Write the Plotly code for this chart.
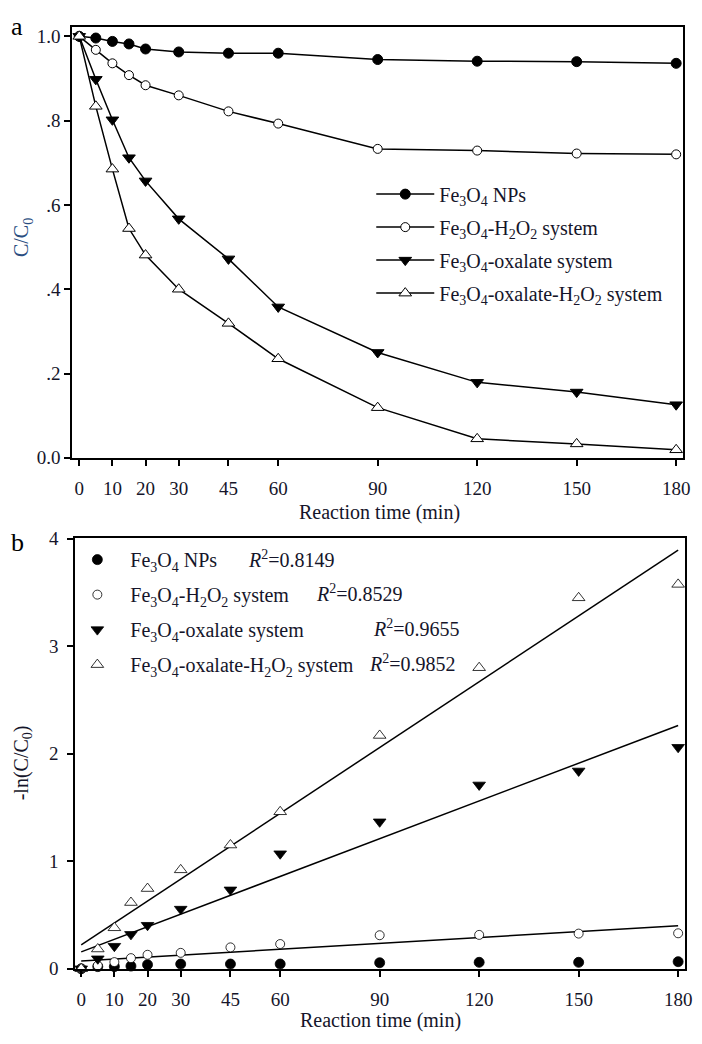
import numpy as np
import plotly.graph_objects as go

W, H = 702, 1044

# ---------------- data ----------------
time_min = [0, 5, 10, 15, 20, 30, 45, 60, 90, 120, 150, 180]

series_names = [
    "Fe<sub>3</sub>O<sub>4</sub> NPs",
    "Fe<sub>3</sub>O<sub>4</sub>-H<sub>2</sub>O<sub>2</sub> system",
    "Fe<sub>3</sub>O<sub>4</sub>-oxalate system",
    "Fe<sub>3</sub>O<sub>4</sub>-oxalate-H<sub>2</sub>O<sub>2</sub> system",
]

# panel a : C/C0
cc0_nps      = [1.000, 0.996, 0.988, 0.982, 0.970, 0.963, 0.960, 0.960, 0.945, 0.941, 0.940, 0.936]
cc0_h2o2     = [1.000, 0.968, 0.936, 0.908, 0.884, 0.860, 0.822, 0.793, 0.733, 0.729, 0.722, 0.720]
cc0_oxalate  = [1.000, 0.898, 0.802, 0.712, 0.657, 0.567, 0.472, 0.358, 0.250, 0.179, 0.156, 0.126]
cc0_ox_h2o2  = [1.000, 0.834, 0.685, 0.544, 0.481, 0.400, 0.319, 0.235, 0.119, 0.045, 0.033, 0.019]

# panel b : -ln(C/C0)
ln_nps     = [0.000, 0.020, 0.020, 0.025, 0.038, 0.044, 0.044, 0.044, 0.056, 0.060, 0.060, 0.066]
ln_h2o2    = [0.000, 0.030, 0.062, 0.099, 0.130, 0.148, 0.199, 0.230, 0.312, 0.315, 0.327, 0.330]
ln_oxalate = [0.000, 0.093, 0.210, 0.320, 0.405, 0.555, 0.734, 1.070, 1.367, 1.710, 1.840, 2.060]
ln_ox_h2o2 = [0.000, 0.184, 0.381, 0.616, 0.746, 0.920, 1.151, 1.460, 2.170, 2.800, 3.450, 3.575]

r2_labels = ["0.8149", "0.8529", "0.9655", "0.9852"]
# which fits are drawn as visible lines (the NPs fit lies on the x axis)
fit_drawn = [False, True, True, True]

x_ticks = [0, 10, 20, 30, 45, 60, 90, 120, 150, 180]
ya_ticks = [0.0, 0.2, 0.4, 0.6, 0.8, 1.0]
ya_ticktext = ["0.0", ".2", ".4", ".6", ".8", "1.0"]
yb_ticks = [0, 1, 2, 3, 4]

# ---------------- styles ----------------
FONT = "Liberation Serif, Times New Roman, serif"
TXT = "#15152a"
BLUE = "#2a4d80"
symbols = ["circle", "circle", "triangle-down", "triangle-up"]
fills = ["black", "white", "black", "white"]
sizes_a = [10, 9, 11, 11]
sizes_b = [10, 9, 11, 11]


def px(x):
    return x / W


def py(y):
    return 1 - y / H


fig = go.Figure()

a_series = [cc0_nps, cc0_h2o2, cc0_oxalate, cc0_ox_h2o2]
b_series = [ln_nps, ln_h2o2, ln_oxalate, ln_ox_h2o2]

for i, (name, ys) in enumerate(zip(series_names, a_series)):
    fig.add_trace(go.Scatter(
        x=time_min, y=ys, name=name, mode="lines+markers",
        xaxis="x", yaxis="y", legend="legend", legendgroup=f"a{i}",
        line=dict(color="black", width=1.5),
        marker=dict(symbol=symbols[i], size=sizes_a[i],
                    color=fills[i], line=dict(color="black", width=1)),
        cliponaxis=False,
    ))

for i, (name, ys) in enumerate(zip(series_names, b_series)):
    if not fit_drawn[i]:
        continue
    slope, icpt = np.polyfit(time_min, ys, 1)
    xs = [time_min[0], time_min[-1]]
    fig.add_trace(go.Scatter(
        x=xs, y=[icpt + slope * v for v in xs], mode="lines",
        xaxis="x2", yaxis="y2", showlegend=False,
        line=dict(color="black", width=1.5), hoverinfo="skip",
    ))

for i, (name, ys) in enumerate(zip(series_names, b_series)):
    fig.add_trace(go.Scatter(
        x=time_min, y=ys, name=name, mode="markers",
        xaxis="x2", yaxis="y2", legend="legend2", legendgroup=f"b{i}",
        marker=dict(symbol=symbols[i], size=sizes_b[i],
                    color=fills[i], line=dict(color="black", width=0.8)),
        cliponaxis=False,
    ))

axis_common = dict(
    showline=True, linecolor="black", linewidth=2, mirror=True,
    ticks="outside", ticklen=6, tickwidth=1.5, tickcolor="black",
    showgrid=False, zeroline=False,
    tickfont=dict(family=FONT, size=19, color=TXT),
)

fig.update_layout(
    width=W, height=H,
    margin=dict(l=0, r=0, t=0, b=0),
    paper_bgcolor="white", plot_bgcolor="white",
    font=dict(family=FONT, size=20, color=TXT),
    xaxis=dict(domain=[px(73), px(690)], range=[-2.1, 182.1], tickvals=x_ticks,
               anchor="y", ticklabelstandoff=6, **axis_common),
    yaxis=dict(domain=[py(457), py(17)], range=[0, 1.023], tickvals=ya_ticks,
               ticktext=ya_ticktext, anchor="x", **axis_common),
    xaxis2=dict(domain=[px(76), px(692)], range=[-1.8, 182.1], tickvals=x_ticks,
                anchor="y2", ticklabelstandoff=6, **axis_common),
    yaxis2=dict(domain=[py(979), py(539)], range=[-0.005, 4.005], tickvals=yb_ticks,
                anchor="x2", ticklabelstandoff=5, **axis_common),
    legend=dict(x=px(375), y=py(168), xanchor="left", yanchor="top",
                bgcolor="rgba(0,0,0,0)", borderwidth=0, itemwidth=58,
                tracegroupgap=4, font=dict(family=FONT, size=20, color=TXT)),
    legend2=dict(x=px(65), y=py(541), xanchor="left", yanchor="top",
                 bgcolor="rgba(0,0,0,0)", borderwidth=0, itemwidth=56,
                 tracegroupgap=6, font=dict(family=FONT, size=20, color=TXT)),
)

# axis titles and panel letters
ann = [
    dict(text="a", x=px(17), y=py(17), font=dict(size=26, color="black")),
    dict(text="b", x=px(18), y=py(543), font=dict(size=26, color="black")),
    dict(text="Reaction time (min)", x=px(383), y=py(513), font=dict(size=20, color=TXT)),
    dict(text="Reaction time (min)", x=px(384), y=py(1031), font=dict(size=20, color=TXT)),
    dict(text="C/C<sub>0</sub>", x=px(23), y=py(232), textangle=-90, font=dict(size=20, color=BLUE)),
    dict(text="-ln(C/C<sub>0</sub>)", x=px(23), y=py(768), textangle=-90, font=dict(size=20, color=TXT)),
]
r2_x = [248, 317, 375, 371]
r2_y = [560, 595, 631, 666]
for lab, xx, yy in zip(r2_labels, r2_x, r2_y):
    ann.append(dict(text=f"<i>R</i><sup>2</sup>={lab}", x=px(xx), y=py(yy), xanchor="left",
                    font=dict(size=20, color=TXT)))
for a in ann:
    a.setdefault("xanchor", "center")
    a.update(xref="paper", yref="paper", yanchor="middle", showarrow=False)
    a["font"].setdefault("family", FONT)
fig.update_layout(annotations=ann)

fig.write_html("out.html")
